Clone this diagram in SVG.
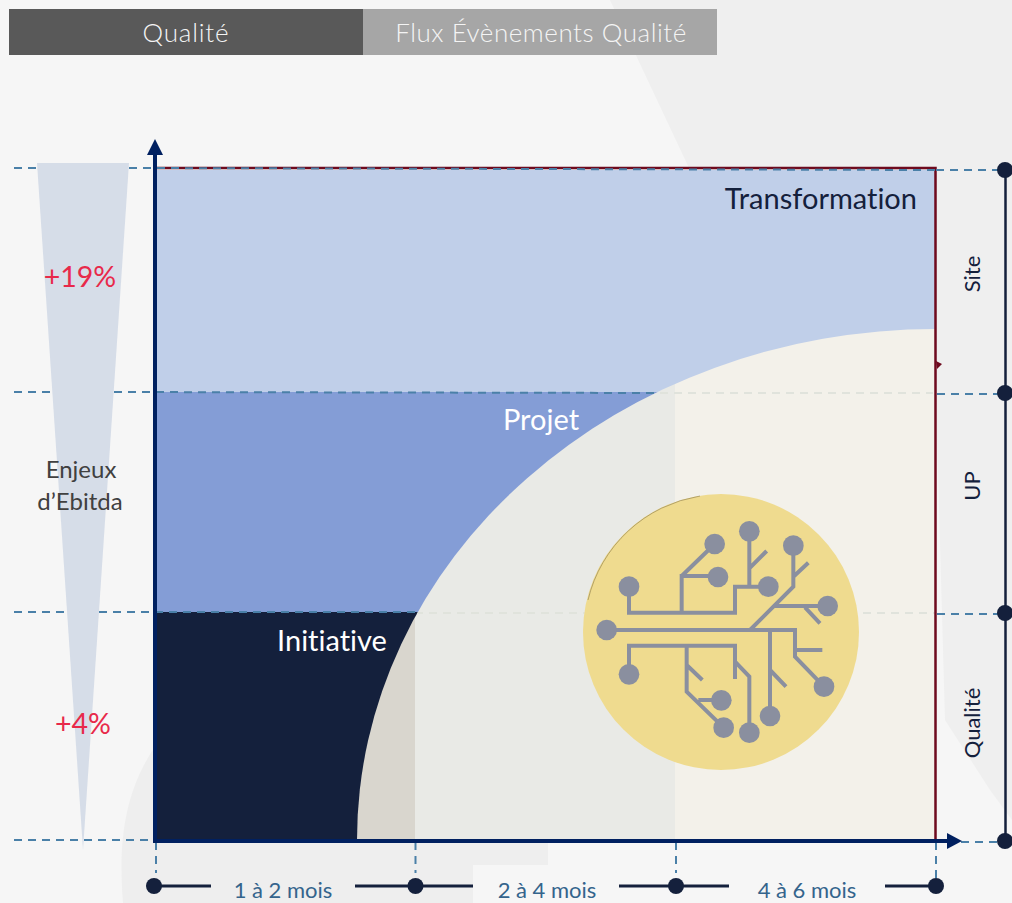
<svg xmlns="http://www.w3.org/2000/svg" width="1012" height="903" viewBox="0 0 1012 903">
<style>
text{font-family:Lato,"Liberation Sans",sans-serif;font-variant-ligatures:none}
.dash{stroke:#4a80a8;stroke-width:2;stroke-dasharray:8 6;fill:none}
.faint{stroke:#e0e3dc;stroke-width:2;stroke-dasharray:8 6;fill:none}
.tl{stroke:#14203c;stroke-width:3;fill:none}
.dot{fill:#14203c}
.time{font-size:22px;fill:#34648c;text-anchor:middle}
.big{font-size:29px;text-anchor:middle}
.tab{font-size:26px;fill:#f4f4f4;text-anchor:middle;font-weight:300;letter-spacing:.8px}
.side{font-size:22px;fill:#14203c;text-anchor:middle}
.en{font-size:24px;fill:#404040;text-anchor:middle}
.pct{font-size:28.500px;fill:#e8294a;text-anchor:middle}
.ic{stroke:#8a8f9f;fill:none}
.icd{fill:#8a8f9f}
</style>
<defs>
<clipPath id="cv"><path d="M357,840 A579,511 0 0 1 936,329 L936,840 Z"/></clipPath>
</defs>
<rect id="background" width="1012" height="903" fill="#f6f6f6"/>
<path id="bg-right" d="M610,0 L1012,0 L1012,820 L990,790 L945,720 L936,400 L936,170 L690,170 Z" fill="#efefef"/>
<path id="bg-left" d="M123,903 C118,840 125,790 156,745 L156,840 L548,840 L548,865 L473,865 L473,903 Z" fill="#eeeeee"/>

<g id="tab-qualite"><rect x="9" y="9" width="354" height="46" fill="#595959"/><text class="tab" x="186" y="42">Qualité</text></g>
<g id="tab-flux"><rect x="363" y="9" width="354" height="46" fill="#a6a6a6"/><text class="tab" x="541" y="42" style="letter-spacing:.55px">Flux Évènements Qualité</text></g>

<g id="zone-transformation"><rect x="156" y="170" width="779" height="222" fill="#c0cfe9"/></g>
<g id="zone-projet"><rect x="156" y="392" width="779" height="220" fill="#849dd6"/></g>
<g id="zone-initiative"><rect x="156" y="612" width="779" height="228" fill="#14203c"/></g>
<path d="M936,361 L942,364 L937,369 Z" fill="#6e0a1e"/>

<g id="enjeux"><path d="M37,163 L129,163 L83,850 Z" fill="#d6dde8"/></g>

<g id="zone-curve" clip-path="url(#cv)">
<rect x="340" y="320" width="75" height="525" fill="#d9d6ce"/>
<rect x="415" y="320" width="260" height="525" fill="#e9eae6"/>
<rect x="675" y="320" width="261" height="525" fill="#f3f1ea"/>
<path class="faint" d="M415,613 H936 M660,393 H933"/>
</g>

<path id="frame" d="M155,168 H935.500 V840" fill="none" stroke="#6e0a1e" stroke-width="2.500"/>

<g id="connectors">
<path class="dash" d="M14,168 L37,168 M129,168 L935,170 M936,170 L1005,170"/>
<path class="dash" d="M14,392 L52,392 M114,392 L660,393 M937,394 L1005,394"/>
<path class="dash" d="M14,612 L66,612 M99,612 L415,612 M937,614 L1005,614"/>
<path class="dash" d="M14,840 L156,840 M947,842 L1005,842"/>
<path class="dash" d="M156,842 V873 M415.500,842 V873 M676,842 V873 M936,842 V880"/>
</g>

<g id="axes">
<path d="M155,842 V152 M153,841 H950" stroke="#002060" stroke-width="4" fill="none"/>
<path d="M155,139 L163,155 L147,155 Z M962,841 L947,833 L947,849 Z" fill="#002060"/>
</g>

<g id="timeline">
<path class="tl" d="M154,886 H211 M355,886 H473 M619,886 H729 M885,886 H936"/>
<circle class="dot" cx="154" cy="886" r="8"/><circle class="dot" cx="415.500" cy="886" r="8"/><circle class="dot" cx="676" cy="886" r="8"/><circle class="dot" cx="936" cy="886" r="8"/>
<text class="time" x="283" y="898">1 à 2 mois</text><text class="time" x="547" y="898">2 à 4 mois</text><text class="time" x="807" y="898">4 à 6 mois</text>
</g>

<g id="scale-right">
<path d="M1005.500,170 V840" stroke="#14203c" stroke-width="2.500" fill="none"/>
<circle class="dot" cx="1005" cy="170" r="8"/><circle class="dot" cx="1005" cy="393" r="8"/><circle class="dot" cx="1005" cy="613" r="8"/><circle class="dot" cx="1005" cy="841" r="8"/>
<text class="side" transform="translate(980,274) rotate(-90)">Site</text>
<text class="side" transform="translate(980,486) rotate(-90)">UP</text>
<text class="side" transform="translate(980,723) rotate(-90)">Qualité</text>
</g>

<g id="label-transformation"><text class="big" x="917" y="209" style="text-anchor:end" fill="#14203c">Transformation</text></g>
<g id="label-projet"><text class="big" x="541" y="430" fill="#fff">Projet</text></g>
<g id="label-initiative"><text class="big" x="332" y="651" fill="#fff">Initiative</text></g>
<g id="label-enjeux"><text class="en" x="81" y="478">Enjeux</text><text class="en" x="80" y="510">d’Ebitda</text></g>
<g id="label-19"><text class="pct" x="80" y="287">+19%</text></g>
<g id="label-4"><text class="pct" x="83" y="734">+4%</text></g>

<g id="icon">
<circle cx="721" cy="632" r="138" fill="#efdb8f"/>
<path d="M588,600 A137.500,137.500 0 0 1 700,496" fill="none" stroke="#8a7a4a" stroke-width="1" opacity=".6"/>
<g transform="translate(560,480) scale(.33333)">
<g class="ic" style="stroke-width:12">
<path d="M140,450 H705 V530 L792,620 M705,510 H787 M630,450 V708 M630,570 L678,620 M570,450 L700,320 V197 M700,290 L745,248 M645,378 H803 M735,382 L780,430"/>
<path d="M207,320 V398 H525 V320 H625 M568,154 V320 M568,265 L620,213 M365,398 V288 H474 M365,288 L464,192"/>
<path d="M207,583 V497 H525 V597 M525,545 L568,590 V758 M380,497 V635 L491,743 M380,555 L427,600 M415,660 H484"/>
</g>
<g class="icd">
<circle cx="464" cy="192" r="31"/><circle cx="474" cy="291" r="31"/><circle cx="568" cy="154" r="31"/><circle cx="625" cy="320" r="31"/><circle cx="700" cy="197" r="31"/><circle cx="803" cy="378" r="31"/><circle cx="207" cy="320" r="31"/><circle cx="140" cy="450" r="31"/><circle cx="207" cy="583" r="31"/><circle cx="484" cy="661" r="31"/><circle cx="491" cy="743" r="31"/><circle cx="568" cy="758" r="31"/><circle cx="630" cy="708" r="31"/><circle cx="792" cy="620" r="31"/>
</g>
</g>
</g>
</svg>
